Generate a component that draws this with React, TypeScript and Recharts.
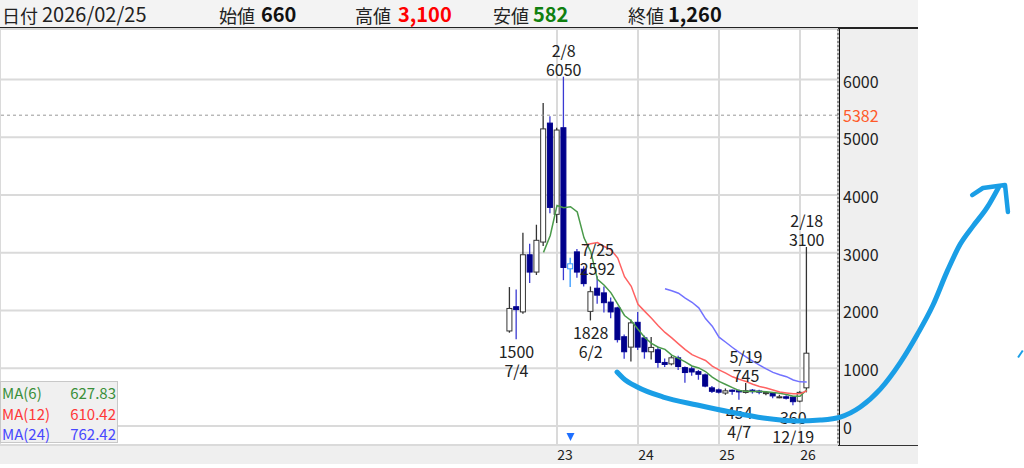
import React from 'react';
import { ComposedChart, Bar, Line, Scatter, XAxis, YAxis, CartesianGrid, ReferenceLine } from 'recharts';

// ---- data (monthly candles, Jun 2022 .. Feb 2026) ----
const months = [
  '2022-06','2022-07','2022-08','2022-09','2022-10','2022-11','2022-12',
  '2023-01','2023-02','2023-03','2023-04','2023-05','2023-06','2023-07','2023-08','2023-09','2023-10','2023-11','2023-12',
  '2024-01','2024-02','2024-03','2024-04','2024-05','2024-06','2024-07','2024-08','2024-09','2024-10','2024-11','2024-12',
  '2025-01','2025-02','2025-03','2025-04','2025-05','2025-06','2025-07','2025-08','2025-09','2025-10','2025-11','2025-12',
  '2026-01','2026-02',
];
const opens = [
  1645, 2065, 1975, 2965, 2665, 3185, 5245,
  3665, 5165, 2765, 3015, 2715, 1985, 2385, 2305, 2145, 2045, 1545, 1365,
  1795, 1525, 1285, 1320, 1100, 1075, 1180, 1010, 990, 940, 885, 660,
  625, 570, 620, 610, 580, 620, 605, 560, 575, 500, 505, 500,
  430, 660,
];
const highs = [
  2405, 2365, 3345, 3155, 3485, 5595, 5365,
  5165, 6050, 2915, 3065, 2765, 2415, 2592, 2415, 2225, 2065, 1585, 1845,
  1975, 1565, 1540, 1370, 1170, 1220, 1215, 1030, 1030, 970, 910, 690,
  650, 650, 630, 630, 745, 640, 625, 600, 590, 540, 530, 520,
  600, 3100,
];
const lows = [
  1615, 1500, 1945, 2475, 2615, 3115, 3685,
  3515, 2525, 2405, 2565, 2415, 1828, 2115, 1965, 1865, 1445, 1165, 1115,
  1315, 1165, 1150, 1010, 1020, 1050, 970, 746, 870, 800, 670, 570,
  560, 540, 540, 454, 560, 560, 550, 530, 480, 480, 460, 360,
  410, 582,
];
const closes = [
  2035, 2015, 2965, 2665, 3215, 5145, 3785,
  5125, 2745, 2765, 2665, 2465, 2325, 2265, 2135, 1975, 1495, 1285, 1785,
  1365, 1285, 1360, 1100, 1065, 1180, 1030, 925, 935, 895, 690, 600,
  585, 608, 600, 590, 610, 595, 585, 578, 520, 505, 480, 420,
  582, 1260,
];

const yearTickIdx = [7, 19, 31, 43];
const yearTickLabels = ['23', '24', '25', '26'];
const priceTicks = [0, 1000, 2000, 3000, 4000, 5000, 6000];
const refPrice = 5382;
const eventIdx = [9];

// high / low callouts
const markerIdx = [8, 13, 1, 12, 35, 34, 42, 44];
const markerKind = ['high', 'high', 'low', 'low', 'high', 'low', 'low', 'high'];
const markerDate = ['2/8', '7/25', '7/4', '6/2', '5/19', '4/7', '12/19', '2/18'];

// header quote
const headerDate = '2026/02/25';
const quoteLabels = ['始値', '高値', '安値', '終値'];
const quoteValues = ['660', '3,100', '582', '1,260'];

// MA legend
const maNames = ['MA(6)', 'MA(12)', 'MA(24)'];
const maValues = ['627.83', '610.42', '762.42'];
const maPeriods = [6, 12, 24];

// hand-drawn annotation (data units: month index, price)
const sketchX = [15.89, 16.78, 18.89, 22.74, 27.78, 32.67, 37.56, 42.59, 46.0, 48.96, 51.93, 54.89, 57.85, 60.33, 62.7, 64.78, 66.7, 68.63, 70.7, 72.4];
const sketchY = [937, 833, 677, 503, 365, 243, 139, 87, 104, 156, 330, 640, 1100, 1580, 2100, 2680, 3150, 3470, 3790, 4140];
const arrowX = [68.5, 70.1, 73.37, 73.8];
const arrowY = [4010, 4132, 4184, 3715];
const flickX = [75.3, 76.0];
const flickY = [1190, 1310];

// ---- derived rows ----
const rollingMean = (arr: number[], n: number) =>
  arr.map((_, i) => (i < n - 1 ? null : arr.slice(i - n + 1, i + 1).reduce((a, b) => a + b, 0) / n));
const ma6 = rollingMean(closes, maPeriods[0]);
const ma12 = rollingMean(closes, maPeriods[1]);
const ma24 = rollingMean(closes, maPeriods[2]);

const rows = months.map((m, i) => ({
  i,
  month: m,
  open: opens[i],
  high: highs[i],
  low: lows[i],
  close: closes[i],
  range: [lows[i], highs[i]],
  ma6: ma6[i],
  ma12: ma12[i],
  ma24: ma24[i],
}));

const markers = markerIdx.map((idx, k) => ({
  i: idx,
  p: markerKind[k] === 'high' ? highs[idx] : lows[idx],
  kind: markerKind[k],
  date: markerDate[k],
}));
const events = eventIdx.map((idx) => ({ i: idx, p: 0 }));

const sketch = sketchX.map((x, k) => ({ x, y: sketchY[k] }));
const arrow = arrowX.map((x, k) => ({ x, y: arrowY[k] }));
const flick = flickX.map((x, k) => ({ x, y: flickY[k] }));

const FONT = "'Noto Sans CJK JP', 'Noto Sans', sans-serif";
const X_DOMAIN: [number, number] = [-75.52, 48.63];
const Y_DOMAIN: [number, number] = [-330, 6875];

function Candle(props: any) {
  const { x, y, width, height, payload } = props;
  if (!payload) return null;
  const { open, close, high, low } = payload;
  const top = Math.min(y, y + height);
  const h = Math.abs(height);
  const span = high - low || 1;
  const py = (v: number) => top + ((high - v) / span) * h;
  const cx = x + width / 2;
  const bw = 5;
  const doji = open === close;
  const up = close > open;
  let bTop = py(Math.max(open, close));
  let bBot = py(Math.min(open, close));
  if (doji) {
    bTop -= 2.5;
    bBot += 2.5;
  }
  if (bBot - bTop < 1) bBot = bTop + 1;
  const wick = doji ? '#3399ff' : up ? '#333' : '#3a3ad2';
  const fill = doji ? '#fff' : up ? '#fff' : '#00008c';
  const stroke = doji ? '#3399ff' : up ? '#333' : '#00008c';
  return (
    <g>
      <line x1={cx} x2={cx} y1={py(high)} y2={bTop} stroke={wick} strokeWidth={1.3} />
      <line x1={cx} x2={cx} y1={bBot} y2={py(low)} stroke={wick} strokeWidth={1.3} />
      <rect x={cx - bw / 2} y={bTop} width={bw} height={bBot - bTop} fill={fill} stroke={stroke} strokeWidth={1} />
    </g>
  );
}

function PeakLabel(props: any) {
  const { cx, cy, payload } = props;
  if (!payload) return null;
  const hi = payload.kind === 'high';
  const first = hi ? payload.date : String(payload.p);
  const second = hi ? String(payload.p) : payload.date;
  const y1 = hi ? cy - 27 : cy + 12;
  const y2 = hi ? cy - 8 : cy + 31;
  const st = { fontFamily: FONT, fontSize: 16, fill: '#222' } as any;
  return (
    <g>
      <text x={cx} y={y1} textAnchor="middle" dominantBaseline="central" style={st}>{first}</text>
      <text x={cx} y={y2} textAnchor="middle" dominantBaseline="central" style={st}>{second}</text>
    </g>
  );
}

function EventMark(props: any) {
  const { cx, cy } = props;
  const yy = cy + 7;
  return <polygon points={`${cx - 4},${yy} ${cx + 4},${yy} ${cx},${yy + 8}`} fill="#1e6fff" />;
}

function XTick(props: any) {
  const { x, y, payload } = props;
  const k = yearTickIdx.indexOf(payload.value);
  return (
    <text x={x + 8} y={y + 15} textAnchor="middle" style={{ fontFamily: FONT, fontSize: 14, fill: '#222' }}>
      {k >= 0 ? yearTickLabels[k] : ''}
    </text>
  );
}

function YTick(props: any) {
  const { x, y, payload } = props;
  return (
    <text x={x} y={y + 8} textAnchor="start" style={{ fontFamily: FONT, fontSize: 16, fill: '#222' }}>
      {payload.value}
    </text>
  );
}

function RefLabel(props: any) {
  const { viewBox } = props;
  const vx = viewBox.x + viewBox.width;
  return (
    <text x={vx + 5} y={viewBox.y + 7} textAnchor="start" style={{ fontFamily: FONT, fontSize: 16, fill: '#ff5a2a' }}>
      {refPrice}
    </text>
  );
}

export default function App() {
  const hdrLabel = { position: 'absolute', top: 3, fontFamily: FONT, fontSize: 18, color: '#222', lineHeight: '24px' } as any;
  const hdrVal = { position: 'absolute', top: 2, fontFamily: FONT, fontSize: 20, fontWeight: 700, lineHeight: '24px' } as any;
  const quoteLeft = [219, 355, 493, 628];
  const valueLeft = [261, 398, 533, 668];
  const valueColor = ['#111', '#ff0000', '#108010', '#111'];
  const maColors = ['#3a8f3a', '#ff3838', '#4848ff'];
  return (
    <div style={{ position: 'fixed', left: 0, top: 0, width: 1024, height: 468, background: '#fff', overflow: 'hidden' }}>
      {/* header */}
      <div style={{ position: 'absolute', left: 0, top: 0, width: 918, height: 27, background: '#f3f3f3', borderBottom: '2px solid #222' }} />
      <span style={{ ...hdrLabel, left: 2 }}>日付</span>
      <span style={{ ...hdrLabel, left: 42, fontSize: 20, top: 2 }}>{headerDate}</span>
      {quoteLabels.map((q, k) => (
        <React.Fragment key={q}>
          <span style={{ ...hdrLabel, left: quoteLeft[k] }}>{q}</span>
          <span style={{ ...hdrVal, left: valueLeft[k], color: valueColor[k] }}>{quoteValues[k]}</span>
        </React.Fragment>
      ))}
      {/* right axis panel + bottom strip */}
      <div style={{ position: 'absolute', left: 839, top: 29, width: 79, height: 434, background: '#efefef', borderLeft: '1px solid #111', boxSizing: 'border-box' }} />
      <div style={{ position: 'absolute', left: 0, top: 445, width: 918, height: 18, background: '#efefef', borderTop: '1.5px solid #333' }} />

      <div style={{ position: 'absolute', left: 0, top: 0 }}>
        <ComposedChart width={1024} height={468} data={rows} margin={{ top: 29, right: 106, bottom: 0, left: 0 }}>
          <CartesianGrid stroke="#dadada" strokeWidth={2} />
          <XAxis
            type="number"
            dataKey="i"
            domain={X_DOMAIN}
            allowDataOverflow
            ticks={yearTickIdx}
            height={23}
            tickLine={false}
            axisLine={false}
            tickSize={0}
            tickMargin={0}
            tick={<XTick />}
            interval={0}
          />
          <YAxis
            orientation="right"
            width={80}
            domain={Y_DOMAIN}
            allowDataOverflow
            ticks={priceTicks}
            interval={0}
            tickSize={0}
            tickMargin={5}
            tick={<YTick />}
            axisLine={{ stroke: '#777', strokeDasharray: '2 2', strokeWidth: 1.5 }}
            tickLine={false}
          />
          <ReferenceLine y={refPrice} stroke="#999" strokeDasharray="3 3" strokeWidth={1} label={<RefLabel />} />
          <Bar dataKey="range" barSize={7} shape={<Candle />} isAnimationActive={false} />
          <Line dataKey="ma6" stroke="#4a9a4a" strokeWidth={1.5} dot={false} isAnimationActive={false} connectNulls={false} />
          <Line dataKey="ma12" stroke="#ff6262" strokeWidth={1.5} dot={false} isAnimationActive={false} connectNulls={false} />
          <Line dataKey="ma24" stroke="#7272ff" strokeWidth={1.5} dot={false} isAnimationActive={false} connectNulls={false} />
          <Scatter data={markers} dataKey="p" shape={<PeakLabel />} isAnimationActive={false} />
          <Scatter data={events} dataKey="p" shape={<EventMark />} isAnimationActive={false} />
        </ComposedChart>
      </div>

      {/* MA legend */}
      <div style={{ position: 'absolute', left: 0, top: 381, width: 118, height: 62, background: '#f0f0f0', border: '1px solid #c8c8c8', boxSizing: 'border-box' }}>
        {maNames.map((n, k) => (
          <div key={n} style={{ position: 'absolute', left: 1, right: 1, top: 0 + k * 20.5, height: 21, fontFamily: FONT, fontSize: 15, lineHeight: '21px', color: maColors[k] }}>
            <span style={{ position: 'absolute', left: 0 }}>{n}</span>
            <span style={{ position: 'absolute', right: 0 }}>{maValues[k]}</span>
          </div>
        ))}
      </div>

      {/* hand-drawn annotation overlay */}
      <div style={{ position: 'absolute', left: 0, top: 0, pointerEvents: 'none' }}>
        <ComposedChart width={1024} height={468} margin={{ top: 0, right: 0, bottom: 0, left: 0 }}>
          <XAxis type="number" dataKey="x" domain={[-75.52, 76.18]} allowDataOverflow hide />
          <YAxis type="number" domain={[-729, 7396]} allowDataOverflow hide />
          <Line data={sketch} dataKey="y" type="monotone" stroke="#1a9ee6" strokeWidth={5} strokeLinecap="round" dot={false} isAnimationActive={false} />
          <Line data={arrow} dataKey="y" type="linear" stroke="#1a9ee6" strokeWidth={4.5} strokeLinecap="round" strokeLinejoin="round" dot={false} isAnimationActive={false} />
          <Line data={flick} dataKey="y" type="linear" stroke="#1a9ee6" strokeWidth={2} dot={false} isAnimationActive={false} />
        </ComposedChart>
      </div>
    </div>
  );
}
